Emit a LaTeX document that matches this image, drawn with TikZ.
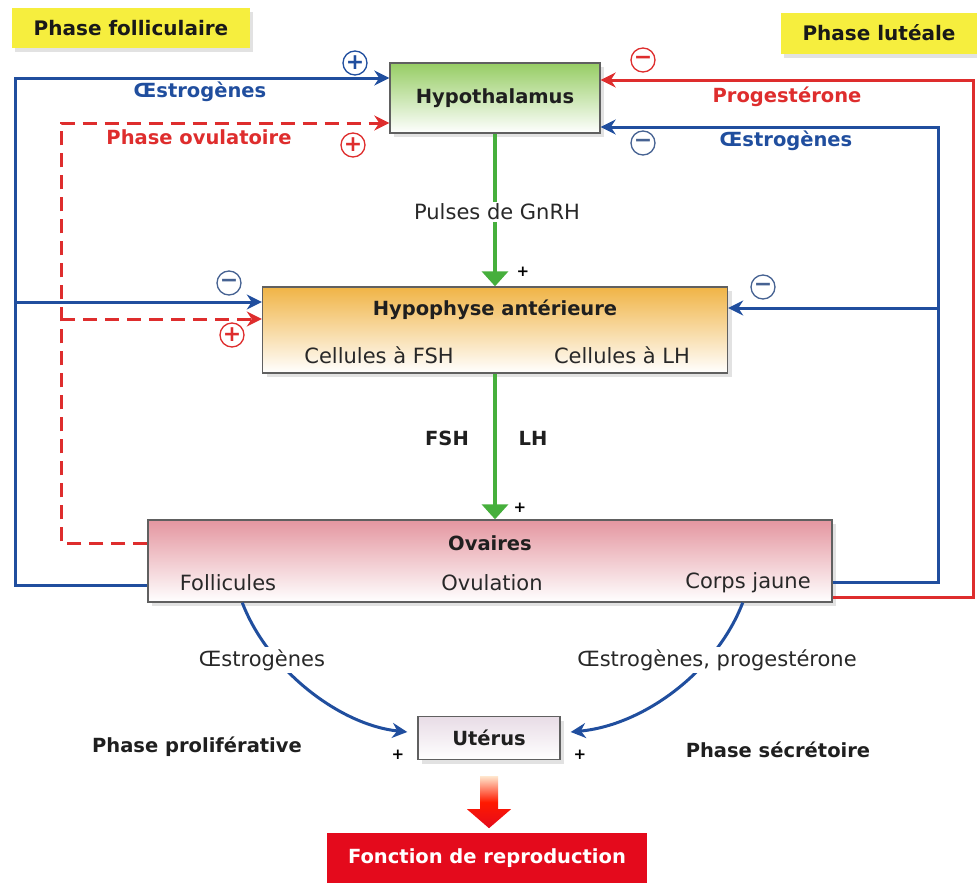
\documentclass[tikz,border=0pt]{standalone}
\usepackage{fontspec}
\setmainfont{DejaVu Sans}
\usetikzlibrary{positioning,arrows.meta,shadows}
\definecolor{hblue}{RGB}{32,78,158}
\definecolor{hred}{RGB}{222,45,45}
\definecolor{hgreen}{RGB}{70,175,60}
\definecolor{hyellow}{RGB}{246,238,62}
\definecolor{repred}{RGB}{228,10,28}
\definecolor{hypgreen}{RGB}{150,205,100}
\definecolor{hyporange}{RGB}{240,180,70}
\definecolor{ovpink}{RGB}{228,150,160}
\definecolor{utpink}{RGB}{232,220,230}
\definecolor{inkgray}{RGB}{40,40,40}
\tikzset{
  organ/.style={draw=gray!75!black, line width=1.4pt, inner sep=0pt, bottom color=white, drop shadow={shadow xshift=4pt, shadow yshift=-4pt, fill=gray!45}},
  phasebox/.style={fill=hyellow, inner sep=0pt, font=\bfseries\fontsize{20}{24}\selectfont, text=black!90, drop shadow={shadow xshift=3pt, shadow yshift=-4pt, fill=gray!45}},
  boldlabel/.style={font=\bfseries\fontsize{19.5}{23}\selectfont, text=black!88, inner sep=1.5pt},
  plainlabel/.style={font=\fontsize{21}{25}\selectfont, text=inkgray, inner sep=2pt},
  sign/.style={circle, draw, line width=1.3pt, minimum size=24pt, inner sep=0pt, font=\bfseries\fontsize{22}{22}\selectfont},
  tinyplus/.style={font=\bfseries\fontsize{15}{15}\selectfont, inner sep=0pt},
  bluearrow/.style={draw=hblue, line width=3pt, -{Stealth[length=15pt,width=15pt]}},
  redarrow/.style={draw=hred, line width=3pt, -{Stealth[length=15pt,width=15pt]}},
  dasharrow/.style={redarrow, dash pattern=on 14pt off 8pt},
  greenarrow/.style={draw=hgreen, line width=4pt, -{Triangle[length=15pt,width=26pt]}}
}
\begin{document}
\begin{tikzpicture}[x=1pt, y=-1pt]
  \useasboundingbox (0,0) rectangle (977,886);
  \node[phasebox, minimum width=238pt, minimum height=40pt] (follic) at (131,28) {Phase folliculaire};
  \node[phasebox, minimum width=197pt, minimum height=41pt] (luteal) at (879,33) {Phase lutéale};

  \node[organ, boldlabel, minimum width=210pt, minimum height=70pt, top color=hypgreen] (hypoth) at (495,98) {Hypothalamus};
  \node[organ, minimum width=465pt, minimum height=86pt, top color=hyporange] (hypoph) at (495,330) {};
  \node[boldlabel] (hypophtitle) at (495,310) {Hypophyse antérieure};
  \node[plainlabel] (cfsh) at (379,355) {Cellules à FSH};
  \node[plainlabel] (clh) at (622,355) {Cellules à LH};
  \node[organ, minimum width=684pt, minimum height=82pt, top color=ovpink] (ovaires) at (490,561) {};
  \node[boldlabel] (ovtitle) at (490,543) {Ovaires};
  \node[plainlabel] (follicules) at (228,583) {Follicules};
  \node[plainlabel] (ovulation) at (492,583) {Ovulation};
  \node[plainlabel] (corps) at (748,583) {Corps jaune};
  \node[organ, boldlabel, minimum width=142pt, minimum height=43pt, top color=utpink] (uterus) at (489,738) {Utérus};
  \node[fill=repred, inner sep=0pt, minimum width=320pt, minimum height=50pt, boldlabel, text=white] (fonction) at (487,858) {Fonction de reproduction};

  \coordinate (bg) at (15,78);
  \coordinate (rg) at (61,123);
  \coordinate (rd) at (973,80);
  \coordinate (bd) at (938,127);
  \coordinate (hrg) at ([yshift=11pt]hypoph.west);
  \coordinate (hbg) at ([yshift=28pt]hypoph.west);
  \coordinate (hbd) at ([yshift=22pt]hypoph.east);

  \draw[dasharrow] ([yshift=18pt]ovaires.west) -| (rg) -- ([yshift=-25pt]hypoth.west);
  \draw[dasharrow] (rg |- hrg) -- (hrg);
  \draw[bluearrow] ([yshift=-24pt]ovaires.west) -| (bg) -- ([yshift=20pt]hypoth.west);
  \draw[bluearrow] (bg |- hbg) -- (hbg);
  \draw[redarrow] ([yshift=-36pt]ovaires.east) -| (rd) -- ([yshift=18pt]hypoth.east);
  \draw[bluearrow] ([yshift=-21pt]ovaires.east) -| (bd) -- ([yshift=-29pt]hypoth.east);
  \draw[bluearrow] (bd |- hbd) -- (hbd);

  \draw[greenarrow] (hypoth.south) -- (hypoth.south |- hypoph.north);
  \draw[greenarrow] (hypoph.south) -- (hypoph.south |- ovaires.north);
  \node[plainlabel, fill=white] (gnrh) at (497,212) {Pulses de GnRH};
  \node[boldlabel] (fsh) at (447,438) {FSH};
  \node[boldlabel] (lh) at (533,438) {LH};
  \node[tinyplus] at (523,272) {+};
  \node[tinyplus] at (520,508) {+};

  \node[boldlabel, text=hblue] (oestroA) at (200,92) {Œstrogènes};
  \node[boldlabel, text=hred] (ovul) at (199,137) {Phase ovulatoire};
  \node[boldlabel, text=hred] (proges) at (787,97) {Progestérone};
  \node[boldlabel, text=hblue] (oestroB) at (786,141) {Œstrogènes};
  \node[sign, draw=hblue, text=hblue] at (355,63) {+};
  \node[sign, draw=hred, text=hred] at (353,145) {+};
  \node[sign, draw=hred, text=hred] at (643,60) {−};
  \node[sign, draw=hblue!60!gray, text=hblue!60!gray] at (643,143) {−};
  \node[sign, draw=hblue!60!gray, text=hblue!60!gray] at (229,283) {−};
  \node[sign, draw=hred, text=hred] at (232,335) {+};
  \node[sign, draw=hblue!60!gray, text=hblue!60!gray] at (763,287) {−};

  \draw[bluearrow] ([xshift=95pt]ovaires.south west) .. controls (268,670) and (340,725) .. ([xshift=-10pt,yshift=6pt]uterus.west);
  \draw[bluearrow] ([xshift=-90pt]ovaires.south east) .. controls (717,670) and (645,725) .. ([xshift=10pt,yshift=6pt]uterus.east);
  \node[plainlabel, fill=white] (oestroC) at (262,660) {Œstrogènes};
  \node[plainlabel, fill=white] (oestroD) at (717,660) {Œstrogènes, progestérone};
  \node[tinyplus] at (398,755) {+};
  \node[tinyplus] at (580,755) {+};
  \node[boldlabel] (prolif) at (197,747) {Phase proliférative};
  \node[boldlabel] (secret) at (778,750) {Phase sécrétoire};

  \coordinate (fl) at ([yshift=-16pt]uterus.south);
  \shade[top color=orange!20, bottom color=repred, middle color=red!80!orange] ([xshift=-9pt]fl) -- ++(18,0) -- ++(0,33) -- ++(13,0) -- ++(-22,19) -- ++(-22,-19) -- ++(13,0) -- cycle;
\end{tikzpicture}
\end{document}
